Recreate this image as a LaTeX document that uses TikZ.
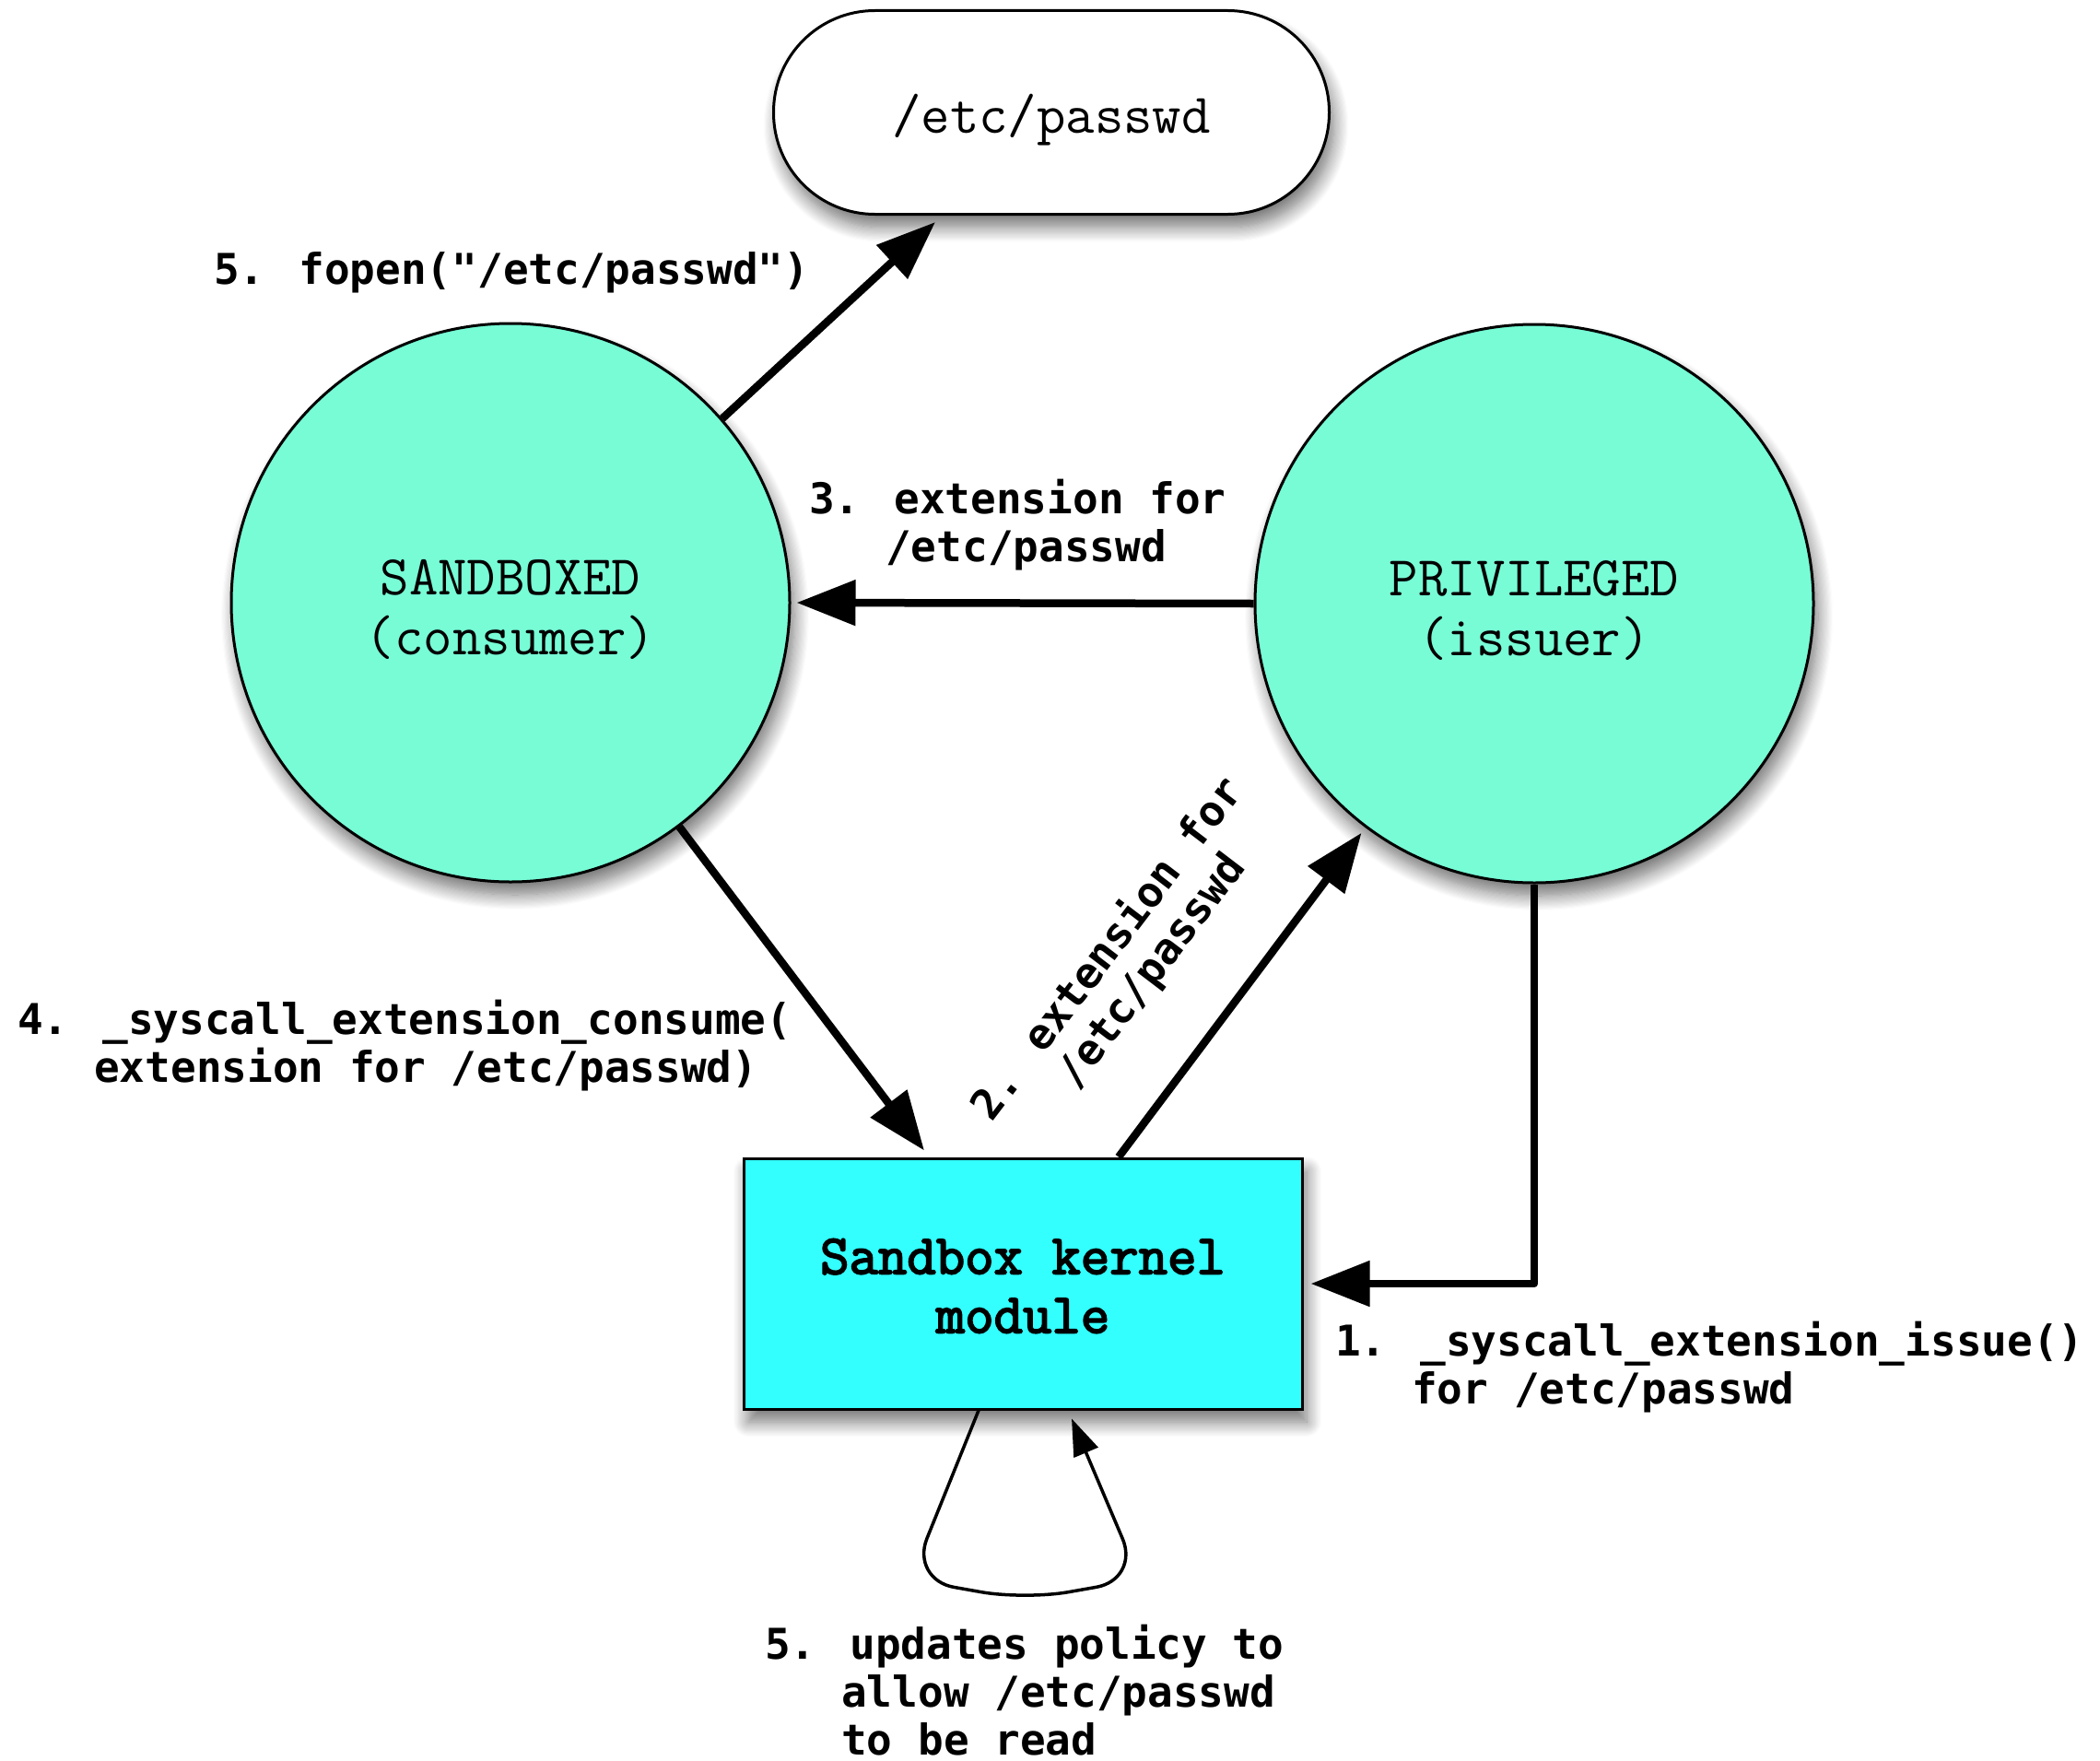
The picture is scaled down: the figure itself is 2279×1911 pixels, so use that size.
\documentclass[tikz,border=0pt]{standalone}
\usepackage{fontspec}
\newfontfamily\lblfont{DejaVu Sans Mono}
\newfontfamily\kfont{Latin Modern Mono}[FakeBold=3]
\usetikzlibrary{arrows.meta,shadows.blur}
\definecolor{mycirc}{HTML}{77FCD6}
\definecolor{mybox}{HTML}{33FFFF}
\newcommand\ind{\hphantom{0.\ }}
\begin{document}
\begin{tikzpicture}[x=1pt,y=-1pt,
  every node/.style={inner sep=0pt},
  shad/.style={blur shadow={shadow xshift=5pt, shadow yshift=-14pt, shadow blur radius=16pt, shadow blur steps=14, shadow opacity=55}},
  circ/.style={circle, draw=black, line width=3pt, fill=mycirc, minimum size=606pt,
    align=center, font=\ttfamily\fontsize{61}{65}\selectfont, shad},
  filebox/.style={rectangle, rounded corners=110pt, draw=black, line width=3pt, fill=white,
    minimum width=603pt, minimum height=221pt, font=\ttfamily\fontsize{61}{65}\selectfont, shad},
  kbox/.style={rectangle, draw=black, line width=3pt, fill=mybox,
    minimum width=606pt, minimum height=272pt, align=center,
    font=\kfont\fontsize{61}{64}\selectfont, shad},
  lbl/.style={anchor=base west, align=left, font=\lblfont\bfseries\fontsize{46}{52}\selectfont},
  conn/.style={line width=8.5pt, line join=round, -{Triangle[length=64pt,width=48pt]}},
  thin/.style={line width=3.5pt, rounded corners=48pt, -{Triangle[length=40pt,width=28pt]}}
]
\useasboundingbox (0,0) rectangle (2279,1911);

\node[filebox] (file) at (1141,122) {\raisebox{-8pt}[\height][\depth]{/etc/passwd}};
\node[circ] (sb) at (554,654) {\rule{0pt}{54pt}SANDBOXED\\(consumer)};
\node[circ] (pr) at (1665,655) {\rule{0pt}{54pt}PRIVILEGED\\(issuer)};
\node[kbox] (km) at (1110,1393) {\rule{0pt}{43pt}Sandbox kernel\\module};

% connectors
\draw[conn] (sb.41.8) -- ([xshift=-126pt,yshift=-7pt]file.south);
\draw[conn, shorten >=6pt] (pr.west) -- (sb.east);
\draw[conn] (sb.-53) -- ([xshift=-107pt,yshift=7pt]km.north);
\draw[conn, shorten >=7pt] ([xshift=104pt]km.north) -- (pr.233.4);
\draw[conn, shorten >=8pt] (pr.south) |- (km.east);
\draw[thin] ([xshift=-48pt]km.south) -- (988,1714) -- (1112,1736) -- (1237,1714)
  -- ([xshift=53pt,yshift=-9pt]km.south);

% labels (anchor = baseline of last line)
\node[lbl] (l5) at (232,308) {5. fopen("/etc/passwd")};
\node[lbl] (l3) at (878,609) {3. extension for\\\ind/etc/passwd};
\node[lbl] (l4) at (19,1174) {4. \_syscall\_extension\_consume(\\\ind extension for /etc/passwd)};
\node[lbl, rotate=52.7] (l2) at (1118,1250) {2. extension for\\\ind/etc/passwd};
\node[lbl] (l1) at (1449,1523) {1. \_syscall\_extension\_issue()\\\ind for /etc/passwd};
\node[lbl] (l6) at (830,1904) {5. updates policy to\\\ind allow /etc/passwd\\\ind to be read};
\end{tikzpicture}
\end{document}
